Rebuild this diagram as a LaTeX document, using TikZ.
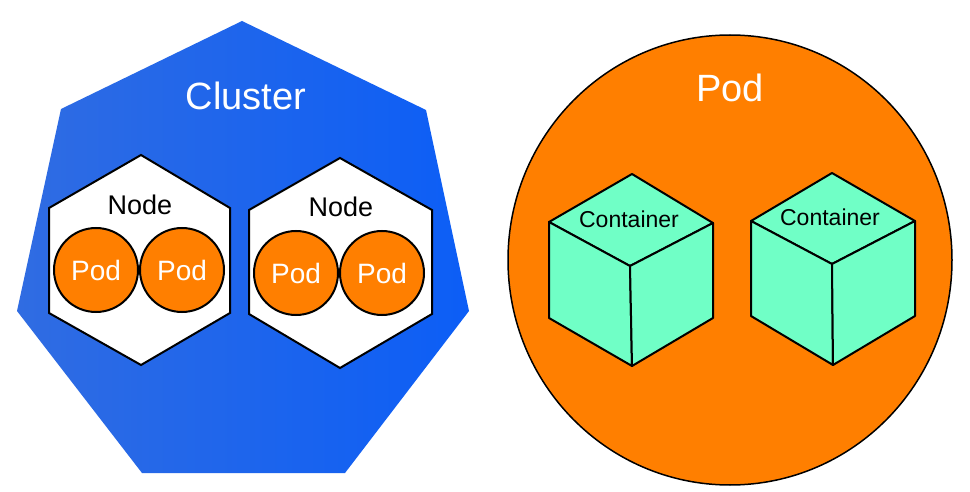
\documentclass[tikz,border=0pt]{standalone}
\usepackage{fontspec}
\setmainfont{Liberation Sans}
\definecolor{bluel}{RGB}{48,108,226}
\definecolor{bluer}{RGB}{12,94,246}
\definecolor{podorange}{RGB}{255,127,0}
\definecolor{cubegreen}{RGB}{112,255,198}
\tikzset{
  hexbox/.style={draw=black, fill=white, line width=2pt, line join=miter},
  podsmall/.style={circle, draw=black, fill=podorange, line width=2pt, minimum size=84pt, inner sep=0pt, text=white, font=\fontsize{28}{30}\selectfont},
  cubeface/.style={draw=black, fill=cubegreen, line width=2pt, line join=round},
  lbl/.style={inner sep=0pt, anchor=center},
}
\begin{document}
\begin{tikzpicture}[x=1pt,y=-1pt]
\useasboundingbox (0,0) rectangle (970,492);
\fill[white] (0,0) rectangle (970,492);

% Cluster heptagon
\shade[left color=bluel, right color=bluer]
  (242,21) -- (426,110) -- (469,311) -- (345,473) -- (142,473) -- (17,311) -- (61,109) -- cycle;
\node[lbl, text=white, font=\fontsize{38}{40}\selectfont] (cluster) at (246,96) {Cluster};

% Node hexagons
\draw[hexbox] (141,155) -- (230,208) -- (230,313) -- (141,365) -- (49,313) -- (49,208) -- cycle;
\draw[hexbox] (340,158) -- (432,210) -- (432,314) -- (340,368) -- (249,314) -- (249,210) -- cycle;
\node[lbl, font=\fontsize{27}{29}\selectfont] (node1) at (140,205) {Node};
\node[lbl, font=\fontsize{27}{29}\selectfont] (node2) at (341,207) {Node};

% Pods within nodes
\node[podsmall] (p1) at (96,270) {Pod};
\node[podsmall] (p2) at (182,270) {Pod};
\node[podsmall] (p3) at (296,273) {Pod};
\node[podsmall] (p4) at (382,273) {Pod};

% Big Pod
\draw[fill=podorange, draw=black, line width=1.5pt] (730,260) ellipse (222pt and 225pt);
\node[lbl, text=white, font=\fontsize{38}{40}\selectfont] (bigpod) at (730,88) {Pod};

% Left cube
\draw[cubeface] (632,174) -- (713,223) -- (630,266) -- (549,222) -- cycle;
\draw[cubeface] (549,222) -- (630,266) -- (632,366) -- (549,318) -- cycle;
\draw[cubeface] (630,266) -- (713,223) -- (713,318) -- (632,366) -- cycle;
\node[lbl, font=\fontsize{23}{25}\selectfont] (c1) at (629,219) {Container};

% Right cube
\draw[cubeface] (832,173) -- (915,221) -- (832,264) -- (751,221) -- cycle;
\draw[cubeface] (751,221) -- (832,264) -- (833,365) -- (751,316) -- cycle;
\draw[cubeface] (832,264) -- (915,221) -- (915,316) -- (833,365) -- cycle;
\node[lbl, font=\fontsize{23}{25}\selectfont] (c2) at (830,217) {Container};
\end{tikzpicture}
\end{document}
